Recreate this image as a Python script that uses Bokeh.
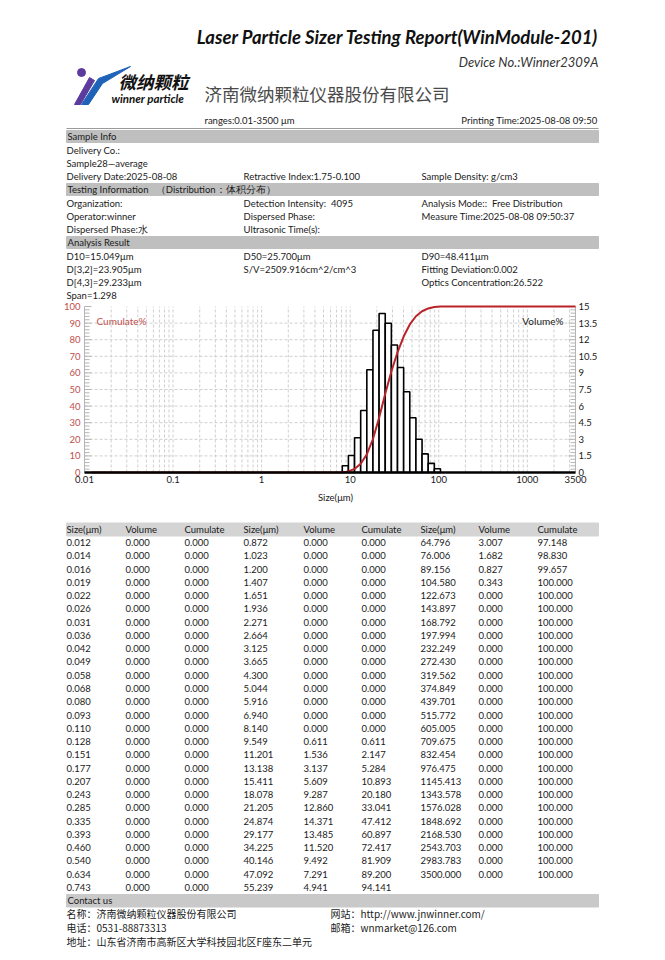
import math
from bokeh.plotting import figure
from bokeh.models import Range1d, LogScale
from bokeh.core.properties import value
from bokeh.embed import file_html
from bokeh.resources import INLINE

# ---------------- data ----------------
sizes = [0.012, 0.014, 0.016, 0.019, 0.022, 0.026, 0.031, 0.036, 0.042, 0.049, 0.058, 0.068, 0.080, 0.093,
         0.110, 0.128, 0.151, 0.177, 0.207, 0.243, 0.285, 0.335, 0.393, 0.460, 0.540, 0.634, 0.743,
         0.872, 1.023, 1.200, 1.407, 1.651, 1.936, 2.271, 2.664, 3.125, 3.665, 4.300, 5.044, 5.916, 6.940,
         8.140, 9.549, 11.201, 13.138, 15.411, 18.078, 21.205, 24.874, 29.177, 34.225, 40.146, 47.092, 55.239,
         64.796, 76.006, 89.156, 104.580, 122.673, 143.897, 168.792, 197.994, 232.249, 272.430, 319.562,
         374.849, 439.701, 515.772, 605.005, 709.675, 832.454, 976.475, 1145.413, 1343.578, 1576.028,
         1848.692, 2168.530, 2543.703, 2983.783, 3500.000]
volume = [0.000, 0.000, 0.000, 0.000, 0.000, 0.000, 0.000, 0.000, 0.000, 0.000, 0.000, 0.000, 0.000, 0.000,
          0.000, 0.000, 0.000, 0.000, 0.000, 0.000, 0.000, 0.000, 0.000, 0.000, 0.000, 0.000, 0.000,
          0.000, 0.000, 0.000, 0.000, 0.000, 0.000, 0.000, 0.000, 0.000, 0.000, 0.000, 0.000, 0.000, 0.000,
          0.000, 0.611, 1.536, 3.137, 5.609, 9.287, 12.860, 14.371, 13.485, 11.520, 9.492, 7.291, 4.941,
          3.007, 1.682, 0.827, 0.343, 0.000, 0.000, 0.000, 0.000, 0.000, 0.000, 0.000,
          0.000, 0.000, 0.000, 0.000, 0.000, 0.000, 0.000, 0.000, 0.000, 0.000,
          0.000, 0.000, 0.000, 0.000, 0.000]
cumulate = [0.000, 0.000, 0.000, 0.000, 0.000, 0.000, 0.000, 0.000, 0.000, 0.000, 0.000, 0.000, 0.000, 0.000,
            0.000, 0.000, 0.000, 0.000, 0.000, 0.000, 0.000, 0.000, 0.000, 0.000, 0.000, 0.000, 0.000,
            0.000, 0.000, 0.000, 0.000, 0.000, 0.000, 0.000, 0.000, 0.000, 0.000, 0.000, 0.000, 0.000, 0.000,
            0.000, 0.611, 2.147, 5.284, 10.893, 20.180, 33.041, 47.412, 60.897, 72.417, 81.909, 89.200, 94.141,
            97.148, 98.830, 99.657, 100.000, 100.000, 100.000, 100.000, 100.000, 100.000, 100.000, 100.000,
            100.000, 100.000, 100.000, 100.000, 100.000, 100.000, 100.000, 100.000, 100.000, 100.000,
            100.000, 100.000, 100.000, 100.000, 100.000]

x_ticks = [0.01, 0.1, 1, 10, 100, 1000, 3500]
cum_ticks = [0, 10, 20, 30, 40, 50, 60, 70, 80, 90, 100]
vol_ticks = [0, 1.5, 3, 4.5, 6, 7.5, 9, 10.5, 12, 13.5, 15]
table_headers = ["Size(μm)", "Volume", "Cumulate"]

title = "Laser Particle Sizer Testing Report(WinModule-201)"
device = "Device No.:Winner2309A"
company = "济南微纳颗粒仪器股份有限公司"
ranges_txt = "ranges:0.01-3500 μm"
print_time = "Printing Time:2025-08-08 09:50"

sections = [
    ("Sample Info", [["Delivery Co.:", "", ""],
                     ["Sample28—average", "", ""],
                     ["Delivery Date:2025-08-08", "Retractive Index:1.75-0.100", "Sample Density: g/cm3"]]),
    ("Testing Information\u00a0\u00a0\u00a0（Distribution：体积分布）",
     [["Organization:", "Detection Intensity:\u00a0\u00a04095", "Analysis Mode::\u00a0\u00a0Free Distribution"],
      ["Operator:winner", "Dispersed Phase:", "Measure Time:2025-08-08 09:50:37"],
      ["Dispersed Phase:水", "Ultrasonic Time(s):", ""]]),
    ("Analysis Result", [["D10=15.049μm", "D50=25.700μm", "D90=48.411μm"],
                         ["D[3,2]=23.905μm", "S/V=2509.916cm^2/cm^3", "Fitting Deviation:0.002"],
                         ["D[4,3]=29.233μm", "", "Optics Concentration:26.522"],
                         ["Span=1.298", "", ""]]),
]

contact_left = ["名称：济南微纳颗粒仪器股份有限公司", "电话：0531-88873313", "地址：山东省济南市高新区大学科技园北区F座东二单元"]
contact_right = ["网站：http://www.jnwinner.com/", "邮箱：wnmarket@126.com"]

# ---------------- styling / layout ----------------
FONT = "Lato"
CJK = "Noto Sans CJK SC"
TXT = "#1a1a1a"
RED = "#c0504d"
CURVE = "#b8242a"
GRID = "#cfcfcf"
AXG = "#b5b5b5"
BAND = "#bfbfbf"
W, H = 665, 960
L, R = 66, 598
CX0, CX1, CY0, CY1 = 84, 575, 306, 472      # chart frame in page pixels

p = figure(width=W, height=H, x_range=Range1d(0, W), y_range=Range1d(H, 0),
           output_backend="svg", toolbar_location=None, x_axis_location=None,
           y_axis_location=None, min_border=0)
p.xgrid.visible = False
p.ygrid.visible = False
p.outline_line_color = None

# chart scales (log size axis, cumulative % and volume % axes) mapped onto the chart box
XMIN, XMAX = 0.01, 3500.0
ppd = (CX1 - CX0) / (math.log10(XMAX) - math.log10(XMIN))
p.extra_x_ranges = {"size": Range1d(10 ** (math.log10(XMIN) - CX0 / ppd),
                                    10 ** (math.log10(XMAX) + (W - CX1) / ppd))}
p.extra_x_scales = {"size": LogScale()}
cpu = (CY1 - CY0) / 100.0
vpu = (CY1 - CY0) / 15.0
p.extra_y_ranges = {"cum": Range1d(-(H - CY1) / cpu, CY1 / cpu),
                    "vol": Range1d(-(H - CY1) / vpu, CY1 / vpu)}


def txt(xs, ys, texts, size="9.5px", color=TXT, align="left", font=FONT, style="normal", **kw):
    p.text(x=xs, y=ys, text=texts, text_font=value(font), text_font_size=size, text_color=color,
           text_align=align, text_baseline=kw.pop("baseline", "middle"), text_font_style=style, **kw)


# ---------------- header ----------------
txt([598], [36], [title], size="18.5px", style="bold italic", color="#111111", align="right")
txt([598], [61], [device], size="13px", style="italic", color="#333333", align="right")

# logo
p.scatter([81], [72], size=8, color="#5b3b9e")
p.patch([74, 80, 94, 89], [104, 104, 80, 77], color="#5b3b9e")
p.patch([81, 88, 102, 130, 98], [104, 104, 83, 66, 78], color="#1f63b9")
txt([118], [81], ["微纳颗粒"], size="17.5px", font=CJK, style="bold italic", color="#111111")
txt([111], [98], ["winner particle"], size="11.5px", style="bold italic", color="#111111")

txt([204], [93], [company], size="17.5px", font=CJK, color="#4a4a4a")
txt([204], [120], [ranges_txt])
txt([597], [120], [print_time], align="right")
p.line([L, R], [128, 128], color="#9a9a9a", line_width=1)

col_x = [66, 243, 421]
y = 136
for head, rows in sections:
    p.quad(left=[L], right=[R], top=[y - 6], bottom=[y + 6], color=BAND)
    txt([67], [y], [head])
    y += 14
    for row in rows:
        xs = [cx for cx, t in zip(col_x, row) if t]
        ts = [t for t in row if t]
        txt(xs, [y] * len(xs), ts)
        y += 13

# ---------------- chart ----------------
S = dict(x_range_name="size", y_range_name="cum")
gx = [k * 10.0 ** e for e in range(-2, 4) for k in range(1, 10) if XMIN < k * 10.0 ** e <= XMAX]
p.segment(x0=gx, y0=0, x1=gx, y1=100, line_color=GRID, line_dash="3 2", line_width=1, **S)
gy = cum_ticks[1:-1]
p.segment(x0=XMIN, y0=gy, x1=XMAX, y1=gy, line_color=GRID, line_dash="3 2", line_width=1, **S)

# side axis lines and inward ticks
p.segment(x0=[XMIN, XMAX], y0=0, x1=[XMIN, XMAX], y1=100, line_color=AXG, line_width=1, **S)
cum_minor = [v for v in range(0, 101, 2) if v % 10]
p.ray(x=XMIN, y=cum_ticks, length=7, length_units="screen", angle=0, line_color=AXG, **S)
p.ray(x=XMIN, y=cum_minor, length=5, length_units="screen", angle=0, line_color=AXG, **S)
vol_minor = [round(i * 0.3, 1) for i in range(51) if i % 5]
p.ray(x=XMAX, y=vol_ticks, length=7, length_units="screen", angle=math.pi, line_color=AXG,
      x_range_name="size", y_range_name="vol")
p.ray(x=XMAX, y=vol_minor, length=5, length_units="screen", angle=math.pi, line_color=AXG,
      x_range_name="size", y_range_name="vol")

# histogram and cumulative curve
lefts = [sizes[i - 1] for i in range(1, len(sizes)) if volume[i] > 0]
rights = [sizes[i] for i in range(1, len(sizes)) if volume[i] > 0]
tops = [volume[i] for i in range(1, len(sizes)) if volume[i] > 0]
p.quad(left=lefts, right=rights, top=tops, bottom=0, fill_color="white", line_color="black",
       line_width=1.6, x_range_name="size", y_range_name="vol")
p.line(sizes, cumulate, color=CURVE, line_width=2, **S)

# bottom axis line
p.segment(x0=[XMIN], y0=[0], x1=[XMAX], y1=[0], line_color="black", line_width=2.5, **S)

# tick labels
p.text(x=XMIN, y=cum_ticks, text=[f"{v:g}" for v in cum_ticks], x_offset=-4, text_align="right",
       text_baseline="middle", text_color=RED, text_font=value(FONT), text_font_size="9.5px", **S)
p.text(x=XMAX, y=vol_ticks, text=[f"{v:g}" for v in vol_ticks], x_offset=3, text_align="left",
       text_baseline="middle", text_color=TXT, text_font=value(FONT), text_font_size="9.5px",
       x_range_name="size", y_range_name="vol")
p.text(x=x_ticks, y=0, text=[f"{v:g}" for v in x_ticks], y_offset=3, text_align="center",
       text_baseline="top", text_color=TXT, text_font=value(FONT), text_font_size="9.5px", **S)
txt([335], [497], ["Size(μm)"], align="center")
p.text(x=[XMIN], y=[91.5], text=["Cumulate%"], x_offset=12, text_font=value(FONT), text_font_size="10px",
       text_color=RED, text_align="left", text_baseline="middle", **S)
p.text(x=[XMAX], y=[91.5], text=["Volume%"], x_offset=-12, text_font=value(FONT), text_font_size="10px",
       text_color=TXT, text_align="right", text_baseline="middle", **S)

# ---------------- table ----------------
p.quad(left=[L], right=[R], top=[522.5], bottom=[535.5], color="#d4d4d4")
tcol_x = [66, 125, 184, 243, 303, 361, 420, 478, 537]
txt(tcol_x, [529] * 9, table_headers * 3)

nrows = 27
row_h = (887 - 542) / 26.0
xs, ys, ts = [], [], []
for k in range(len(sizes)):
    g, r = divmod(k, nrows)
    yy = 542 + r * row_h
    for j, v in enumerate((sizes[k], volume[k], cumulate[k])):
        xs.append(tcol_x[g * 3 + j])
        ys.append(yy)
        ts.append(f"{v:.3f}")
txt(xs, ys, ts)

# ---------------- contact ----------------
p.quad(left=[L], right=[R], top=[894], bottom=[906.5], color="#c9c9c9")
txt([67], [900], ["Contact us"])
txt([66] * 3, [913, 927, 941], contact_left, size="10px", font=CJK)
txt([330] * 2, [913, 927], contact_right, size="10px", font=CJK)

open("out.html", "w").write(file_html(p, INLINE))
